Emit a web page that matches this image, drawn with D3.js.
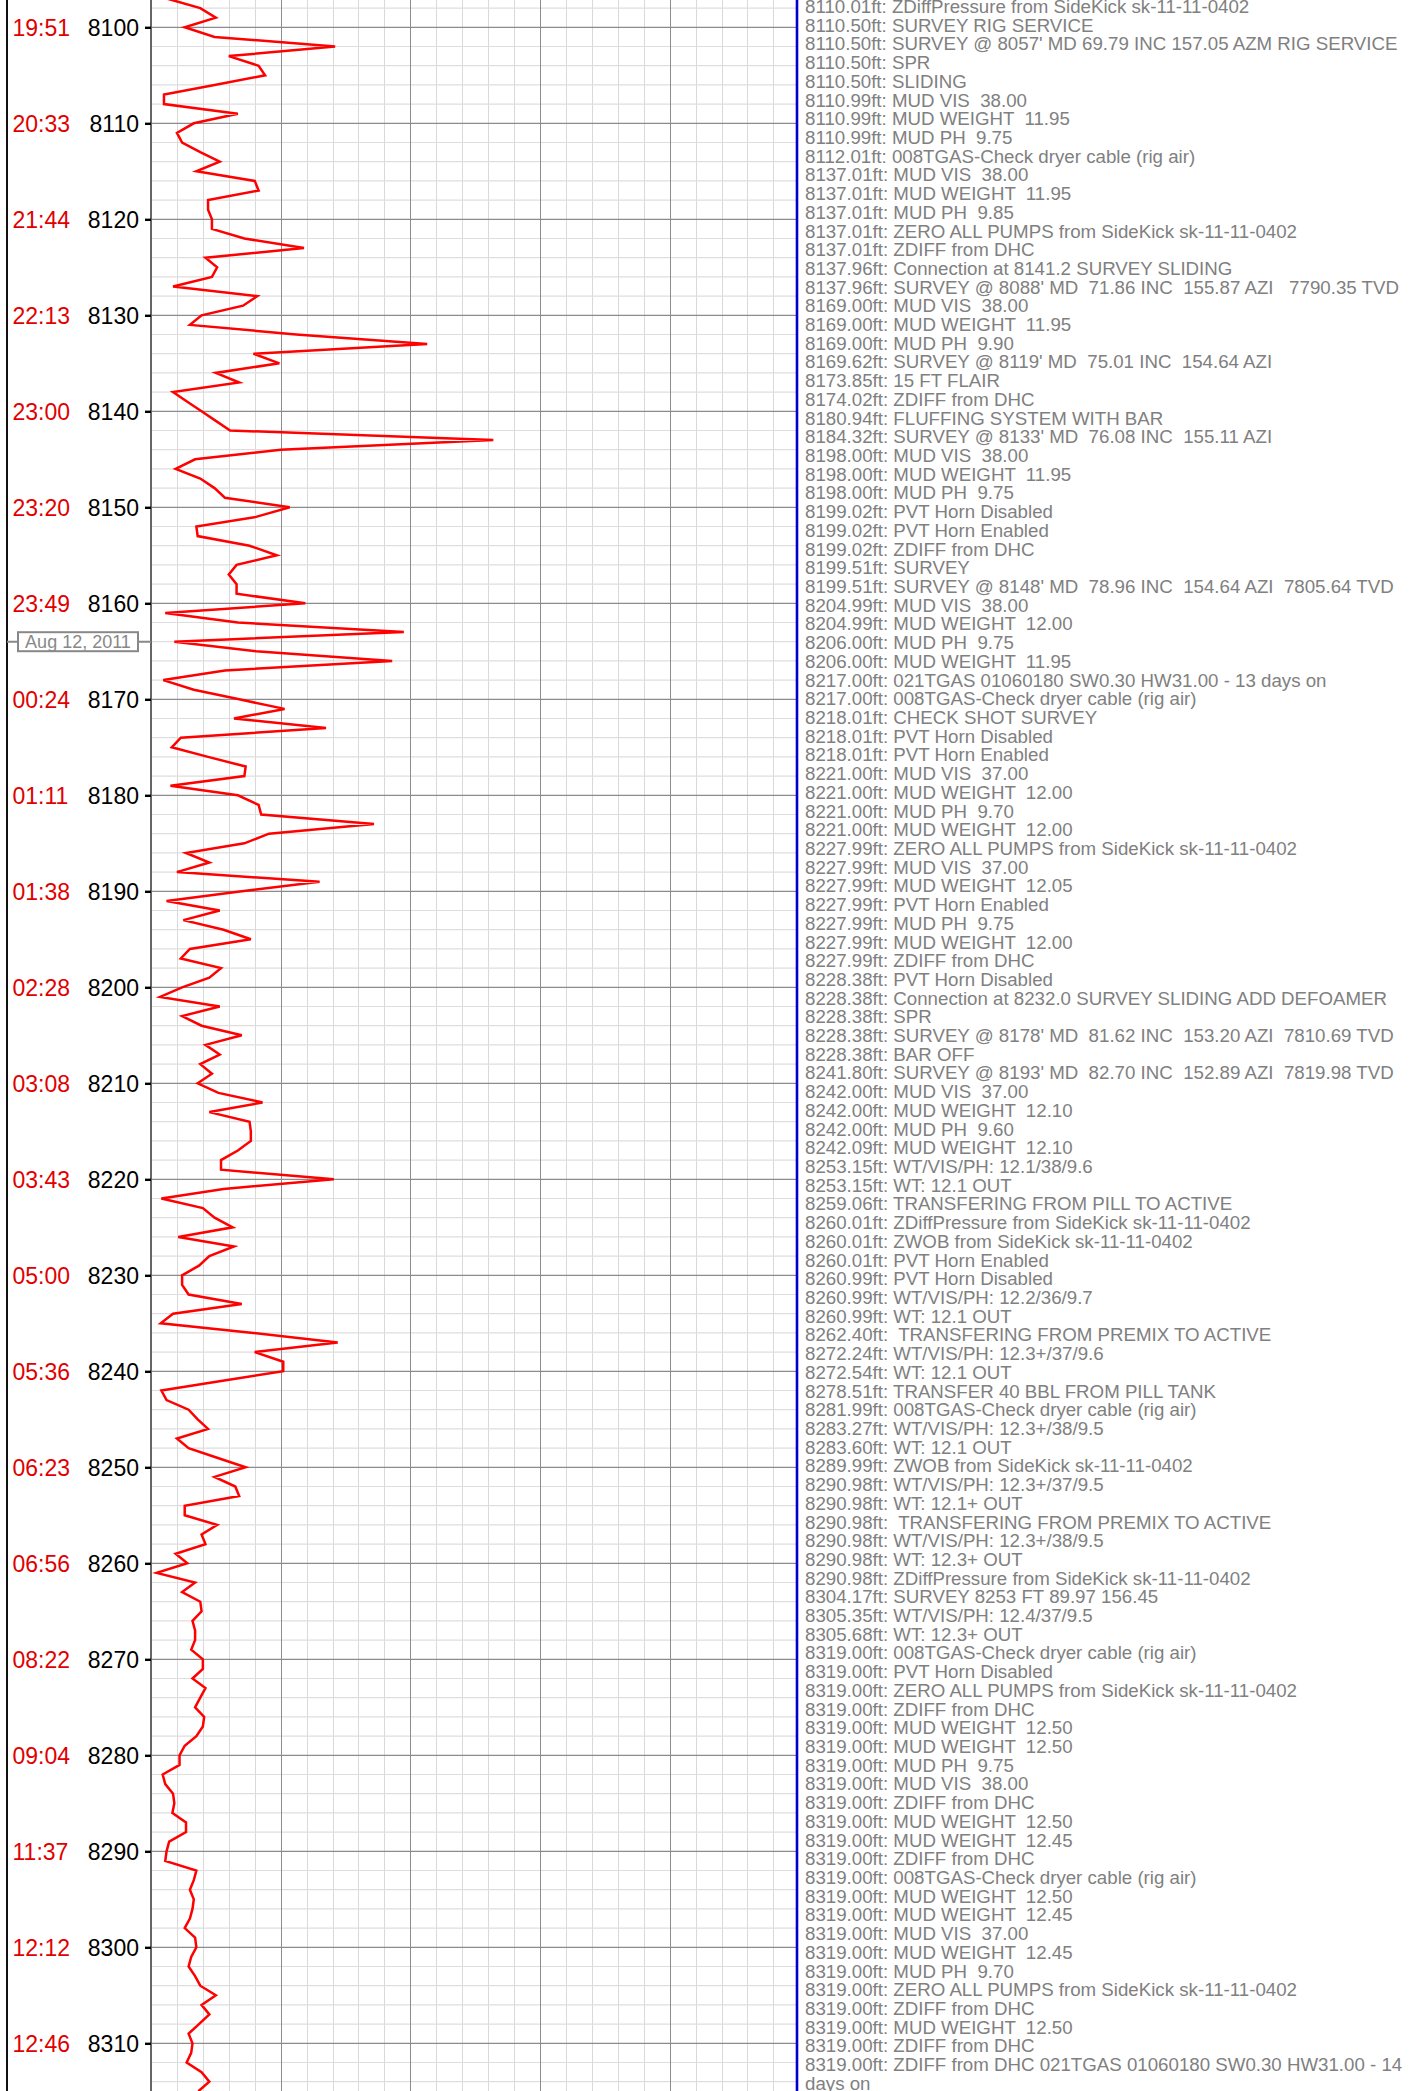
<!DOCTYPE html>
<html>
<head>
<meta charset="utf-8">
<script src="https://cdn.jsdelivr.net/npm/d3@7"></script>
<style>
  html, body { margin: 0; padding: 0; background: #fff; }
  svg { display: block; }
  text { font-family: "Liberation Sans", Arial, Helvetica, sans-serif; }
</style>
</head>
<body>
<svg id="chart" width="1413" height="2091"></svg>
<script>
// ---------------- DATA ----------------
const depthTicks = [8100, 8110, 8120, 8130, 8140, 8150, 8160, 8170, 8180, 8190, 8200,
  8210, 8220, 8230, 8240, 8250, 8260, 8270, 8280, 8290, 8300, 8310];
const timeLabels = ["19:51", "20:33", "21:44", "22:13", "23:00", "23:20", "23:49", "00:24",
  "01:11", "01:38", "02:28", "03:08", "03:43", "05:00", "05:36", "06:23", "06:56", "08:22",
  "09:04", "11:37", "12:12", "12:46"];
const dateDepths = [8164.0];
const dateLabels = ["Aug 12, 2011"];

const gasDepth = [8097, 8098, 8099, 8100, 8101, 8102, 8103, 8104, 8105, 8106, 8107, 8108, 8109,
  8110, 8111, 8112, 8113, 8114, 8115, 8116, 8117, 8118, 8119, 8120, 8121, 8122, 8123, 8124,
  8125, 8126, 8127, 8128, 8129, 8130, 8131, 8132, 8133, 8134, 8135, 8136, 8137, 8138, 8139,
  8140, 8141, 8142, 8143, 8144, 8145, 8146, 8147, 8148, 8149, 8150, 8151, 8152, 8153, 8154,
  8155, 8156, 8157, 8158, 8159, 8160, 8161, 8162, 8163, 8164, 8165, 8166, 8167, 8168, 8169,
  8170, 8171, 8172, 8173, 8174, 8175, 8176, 8177, 8178, 8179, 8180, 8181, 8182, 8183, 8184,
  8185, 8186, 8187, 8188, 8189, 8190, 8191, 8192, 8193, 8194, 8195, 8196, 8197, 8198, 8199,
  8200, 8201, 8202, 8203, 8204, 8205, 8206, 8207, 8208, 8209, 8210, 8211, 8212, 8213, 8214,
  8215, 8216, 8217, 8218, 8219, 8220, 8221, 8222, 8223, 8224, 8225, 8226, 8227, 8228, 8229,
  8230, 8231, 8232, 8233, 8234, 8235, 8236, 8237, 8238, 8239, 8240, 8241, 8242, 8243, 8244,
  8245, 8246, 8247, 8248, 8249, 8250, 8251, 8252, 8253, 8254, 8255, 8256, 8257, 8258, 8259,
  8260, 8261, 8262, 8263, 8264, 8265, 8266, 8267, 8268, 8269, 8270, 8271, 8272, 8273, 8274,
  8275, 8276, 8277, 8278, 8279, 8280, 8281, 8282, 8283, 8284, 8285, 8286, 8287, 8288, 8289,
  8290, 8291, 8292, 8293, 8294, 8295, 8296, 8297, 8298, 8299, 8300, 8301, 8302, 8303, 8304,
  8305, 8306, 8307, 8308, 8309, 8310, 8311, 8312, 8313, 8314, 8315];
const gasValue = [12, 38, 50, 26, 49, 142, 60, 83, 88, 49, 10, 10, 67,
  33, 20, 24, 38, 53, 35, 80, 83, 44, 44, 47, 47, 72, 118, 42,
  51, 47, 17, 82, 71, 39, 30, 112, 213, 79, 99, 50, 68, 17, 28,
  39, 50, 61, 264, 100, 34, 19, 38, 49, 57, 107, 81, 35, 36, 76,
  97, 66, 60, 66, 66, 119, 11, 67, 195, 18, 81, 186, 57, 9.5, 33,
  68, 103, 64, 135, 23, 16, 44, 73, 72, 15, 67, 83, 85, 172, 91,
  72, 27, 45, 20, 130, 70, 12, 53, 25, 56, 77, 30, 23, 54, 45,
  24, 7, 53, 24, 39, 70, 42, 53, 38, 47, 36, 52, 86, 45, 76,
  77, 77, 67, 54, 54, 141, 56, 8, 40, 49, 63, 21, 64, 45, 37,
  24, 24, 29, 70, 17, 7.5, 79, 144, 80, 102, 102, 54, 8, 12, 29,
  36, 44, 20, 29, 51, 73, 49, 65, 68, 26, 26, 51, 39, 42, 19,
  28, 4.4, 34, 24, 38, 39, 32, 34, 34, 31, 40, 40, 32, 42, 38,
  34, 41, 40, 35, 26, 22, 22, 9, 11, 17, 18, 16.5, 27, 27, 14,
  12, 11, 35, 33, 30, 33, 32, 30, 26, 34, 35, 31, 29, 34, 38,
  50, 39, 45, 37, 29, 32, 31, 27.5, 39, 45, 36.5];

const annotations = [
  "8110.01ft: ZDiffPressure from SideKick sk-11-11-0402",
  "8110.50ft: SURVEY RIG SERVICE",
  "8110.50ft: SURVEY @ 8057' MD 69.79 INC 157.05 AZM RIG SERVICE",
  "8110.50ft: SPR",
  "8110.50ft: SLIDING",
  "8110.99ft: MUD VIS  38.00",
  "8110.99ft: MUD WEIGHT  11.95",
  "8110.99ft: MUD PH  9.75",
  "8112.01ft: 008TGAS-Check dryer cable (rig air)",
  "8137.01ft: MUD VIS  38.00",
  "8137.01ft: MUD WEIGHT  11.95",
  "8137.01ft: MUD PH  9.85",
  "8137.01ft: ZERO ALL PUMPS from SideKick sk-11-11-0402",
  "8137.01ft: ZDIFF from DHC",
  "8137.96ft: Connection at 8141.2 SURVEY SLIDING",
  "8137.96ft: SURVEY @ 8088' MD  71.86 INC  155.87 AZI   7790.35 TVD",
  "8169.00ft: MUD VIS  38.00",
  "8169.00ft: MUD WEIGHT  11.95",
  "8169.00ft: MUD PH  9.90",
  "8169.62ft: SURVEY @ 8119' MD  75.01 INC  154.64 AZI",
  "8173.85ft: 15 FT FLAIR",
  "8174.02ft: ZDIFF from DHC",
  "8180.94ft: FLUFFING SYSTEM WITH BAR",
  "8184.32ft: SURVEY @ 8133' MD  76.08 INC  155.11 AZI",
  "8198.00ft: MUD VIS  38.00",
  "8198.00ft: MUD WEIGHT  11.95",
  "8198.00ft: MUD PH  9.75",
  "8199.02ft: PVT Horn Disabled",
  "8199.02ft: PVT Horn Enabled",
  "8199.02ft: ZDIFF from DHC",
  "8199.51ft: SURVEY",
  "8199.51ft: SURVEY @ 8148' MD  78.96 INC  154.64 AZI  7805.64 TVD",
  "8204.99ft: MUD VIS  38.00",
  "8204.99ft: MUD WEIGHT  12.00",
  "8206.00ft: MUD PH  9.75",
  "8206.00ft: MUD WEIGHT  11.95",
  "8217.00ft: 021TGAS 01060180 SW0.30 HW31.00 - 13 days on",
  "8217.00ft: 008TGAS-Check dryer cable (rig air)",
  "8218.01ft: CHECK SHOT SURVEY",
  "8218.01ft: PVT Horn Disabled",
  "8218.01ft: PVT Horn Enabled",
  "8221.00ft: MUD VIS  37.00",
  "8221.00ft: MUD WEIGHT  12.00",
  "8221.00ft: MUD PH  9.70",
  "8221.00ft: MUD WEIGHT  12.00",
  "8227.99ft: ZERO ALL PUMPS from SideKick sk-11-11-0402",
  "8227.99ft: MUD VIS  37.00",
  "8227.99ft: MUD WEIGHT  12.05",
  "8227.99ft: PVT Horn Enabled",
  "8227.99ft: MUD PH  9.75",
  "8227.99ft: MUD WEIGHT  12.00",
  "8227.99ft: ZDIFF from DHC",
  "8228.38ft: PVT Horn Disabled",
  "8228.38ft: Connection at 8232.0 SURVEY SLIDING ADD DEFOAMER",
  "8228.38ft: SPR",
  "8228.38ft: SURVEY @ 8178' MD  81.62 INC  153.20 AZI  7810.69 TVD",
  "8228.38ft: BAR OFF",
  "8241.80ft: SURVEY @ 8193' MD  82.70 INC  152.89 AZI  7819.98 TVD",
  "8242.00ft: MUD VIS  37.00",
  "8242.00ft: MUD WEIGHT  12.10",
  "8242.00ft: MUD PH  9.60",
  "8242.09ft: MUD WEIGHT  12.10",
  "8253.15ft: WT/VIS/PH: 12.1/38/9.6",
  "8253.15ft: WT: 12.1 OUT",
  "8259.06ft: TRANSFERING FROM PILL TO ACTIVE",
  "8260.01ft: ZDiffPressure from SideKick sk-11-11-0402",
  "8260.01ft: ZWOB from SideKick sk-11-11-0402",
  "8260.01ft: PVT Horn Enabled",
  "8260.99ft: PVT Horn Disabled",
  "8260.99ft: WT/VIS/PH: 12.2/36/9.7",
  "8260.99ft: WT: 12.1 OUT",
  "8262.40ft:  TRANSFERING FROM PREMIX TO ACTIVE",
  "8272.24ft: WT/VIS/PH: 12.3+/37/9.6",
  "8272.54ft: WT: 12.1 OUT",
  "8278.51ft: TRANSFER 40 BBL FROM PILL TANK",
  "8281.99ft: 008TGAS-Check dryer cable (rig air)",
  "8283.27ft: WT/VIS/PH: 12.3+/38/9.5",
  "8283.60ft: WT: 12.1 OUT",
  "8289.99ft: ZWOB from SideKick sk-11-11-0402",
  "8290.98ft: WT/VIS/PH: 12.3+/37/9.5",
  "8290.98ft: WT: 12.1+ OUT",
  "8290.98ft:  TRANSFERING FROM PREMIX TO ACTIVE",
  "8290.98ft: WT/VIS/PH: 12.3+/38/9.5",
  "8290.98ft: WT: 12.3+ OUT",
  "8290.98ft: ZDiffPressure from SideKick sk-11-11-0402",
  "8304.17ft: SURVEY 8253 FT 89.97 156.45",
  "8305.35ft: WT/VIS/PH: 12.4/37/9.5",
  "8305.68ft: WT: 12.3+ OUT",
  "8319.00ft: 008TGAS-Check dryer cable (rig air)",
  "8319.00ft: PVT Horn Disabled",
  "8319.00ft: ZERO ALL PUMPS from SideKick sk-11-11-0402",
  "8319.00ft: ZDIFF from DHC",
  "8319.00ft: MUD WEIGHT  12.50",
  "8319.00ft: MUD WEIGHT  12.50",
  "8319.00ft: MUD PH  9.75",
  "8319.00ft: MUD VIS  38.00",
  "8319.00ft: ZDIFF from DHC",
  "8319.00ft: MUD WEIGHT  12.50",
  "8319.00ft: MUD WEIGHT  12.45",
  "8319.00ft: ZDIFF from DHC",
  "8319.00ft: 008TGAS-Check dryer cable (rig air)",
  "8319.00ft: MUD WEIGHT  12.50",
  "8319.00ft: MUD WEIGHT  12.45",
  "8319.00ft: MUD VIS  37.00",
  "8319.00ft: MUD WEIGHT  12.45",
  "8319.00ft: MUD PH  9.70",
  "8319.00ft: ZERO ALL PUMPS from SideKick sk-11-11-0402",
  "8319.00ft: ZDIFF from DHC",
  "8319.00ft: MUD WEIGHT  12.50",
  "8319.00ft: ZDIFF from DHC",
  "8319.00ft: ZDIFF from DHC 021TGAS 01060180 SW0.30 HW31.00 - 14 days on"
];

// ---------------- LAYOUT ----------------
const W = 1413, H = 2091;
const plotLeft = 151, plotRight = 797;
const svg = d3.select("#chart");

const y = d3.scaleLinear().domain([8100, 8310]).range([27.3, 2043.3]);
const x = d3.scaleLinear().domain([0, 500]).range([plotLeft, 799.3]);

// grid
const grid = svg.append("g");
grid.selectAll("line.vmin").data(d3.range(20, 500, 20).filter(v => v % 100 !== 0))
  .join("line").attr("class", "vmin")
  .attr("x1", d => Math.round(x(d)) + 0.5).attr("x2", d => Math.round(x(d)) + 0.5)
  .attr("y1", 0).attr("y2", H)
  .attr("stroke", "#d9d9d9").attr("stroke-width", 1);
grid.selectAll("line.hmin").data(d3.range(8098, 8316, 2).filter(v => v % 10 !== 0))
  .join("line").attr("class", "hmin")
  .attr("x1", plotLeft).attr("x2", plotRight)
  .attr("y1", d => y(d)).attr("y2", d => y(d))
  .attr("stroke", "#dedede").attr("stroke-width", 1.2);
grid.selectAll("line.vmaj").data([100, 200, 300, 400])
  .join("line").attr("class", "vmaj")
  .attr("x1", d => Math.round(x(d)) + 0.5).attr("x2", d => Math.round(x(d)) + 0.5)
  .attr("y1", 0).attr("y2", H)
  .attr("stroke", "#8c8c8c").attr("stroke-width", 1);
grid.selectAll("line.hmaj").data(depthTicks)
  .join("line").attr("class", "hmaj")
  .attr("x1", plotLeft).attr("x2", plotRight)
  .attr("y1", d => y(d)).attr("y2", d => y(d))
  .attr("stroke", "#8c8c8c").attr("stroke-width", 1.2);

// data line
const line = d3.line().x((d, i) => x(gasValue[i])).y(d => y(d));
svg.append("path")
  .datum(gasDepth)
  .attr("d", line)
  .attr("fill", "none")
  .attr("stroke", "#ff0000")
  .attr("stroke-width", 2.5)
  .attr("stroke-linejoin", "miter");

// left axis line of plot
svg.append("line").attr("x1", plotLeft).attr("x2", plotLeft).attr("y1", 0).attr("y2", H)
  .attr("stroke", "#666").attr("stroke-width", 2);
// outer left frame
svg.append("line").attr("x1", 7).attr("x2", 7).attr("y1", 0).attr("y2", H)
  .attr("stroke", "#111").attr("stroke-width", 2);
// right blue border
svg.append("line").attr("x1", 797).attr("x2", 797).attr("y1", 0).attr("y2", H)
  .attr("stroke", "#0000cc").attr("stroke-width", 2.6);

// depth axis
const axis = d3.axisLeft(y).tickValues(depthTicks).tickSize(6).tickPadding(6)
  .tickFormat(d3.format("d"));
const gAxis = svg.append("g").attr("transform", `translate(${plotLeft},0)`).call(axis);
gAxis.select(".domain").remove();
gAxis.selectAll(".tick line").attr("stroke", "#000").attr("stroke-width", 2.4);
gAxis.selectAll(".tick text")
  .attr("font-family", "'Liberation Sans', Arial, sans-serif")
  .attr("font-size", 23).attr("fill", "#000").attr("dy", "0.36em");

// time labels
svg.append("g").selectAll("text").data(depthTicks).join("text")
  .attr("x", 12.5).attr("y", d => y(d)).attr("dy", "0.36em")
  .attr("font-size", 23).attr("fill", "#e00000")
  .text((d, i) => timeLabels[i]);

// date marker
const dm = svg.append("g");
dateDepths.forEach((dd, i) => {
  const yc = y(dd);
  dm.append("line").attr("x1", 7).attr("x2", plotLeft).attr("y1", yc).attr("y2", yc)
    .attr("stroke", "#888").attr("stroke-width", 2);
  dm.append("rect").attr("x", 18).attr("y", yc - 9.5).attr("width", 120).attr("height", 19)
    .attr("fill", "#fff").attr("stroke", "#888").attr("stroke-width", 2);
  dm.append("text").attr("x", 78).attr("y", yc).attr("dy", "0.36em")
    .attr("text-anchor", "middle").attr("font-size", 18).attr("fill", "#888")
    .text(dateLabels[i]);
});

// annotations
const annX = 805;
const annFont = 18.7;
const annG = svg.append("g").attr("transform", `translate(${annX},0)`);
const lineH = 18.71, firstBase = 13;
const maxW = W - annX - 6;
let row = 0;
annotations.forEach(s => {
  const words = s.split(" ");
  let cur = "";
  const probe = annG.append("text").attr("font-size", annFont).style("white-space", "pre");
  const outLines = [];
  words.forEach((w, k) => {
    const test = k === 0 ? w : cur + " " + w;
    probe.text(test);
    if (probe.node().getComputedTextLength() > maxW && cur.trim() !== "") {
      outLines.push(cur);
      cur = w;
    } else {
      cur = test;
    }
  });
  outLines.push(cur);
  probe.remove();
  outLines.forEach(t => {
    annG.append("text")
      .attr("x", 0).attr("y", firstBase + row * lineH)
      .attr("font-size", annFont).attr("fill", "#808080")
      .style("white-space", "pre")
      .text(t);
    row++;
  });
});
</script>
</body>
</html>
